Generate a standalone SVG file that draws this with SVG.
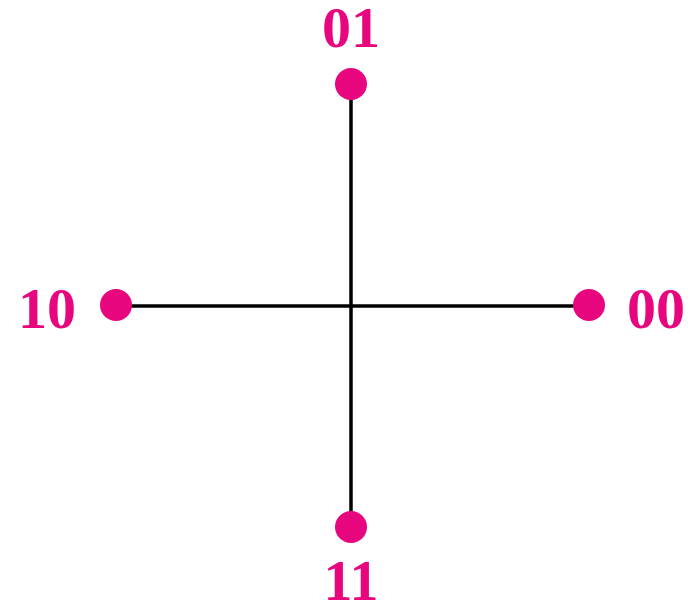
<svg xmlns="http://www.w3.org/2000/svg" width="697" height="609" viewBox="0 0 697 609">
<style>
.dot{fill:#E8067F}
.lbl{fill:#E8067F;font-family:"Liberation Serif","Times New Roman",serif;font-weight:bold;font-size:58px}
.ln{stroke:#000;stroke-width:3.5;fill:none}
</style>
<rect width="697" height="609" fill="#fff"/>
<g id="connectors">
<line class="ln" x1="351" y1="84" x2="351" y2="527"/>
<line class="ln" x1="116" y1="306" x2="589" y2="306"/>
</g>
<g id="n01"><circle class="dot" cx="351" cy="84" r="16"/><text class="lbl" x="351" y="47" text-anchor="middle">01</text></g>
<g id="n10"><circle class="dot" cx="116" cy="305" r="16"/><text class="lbl" x="47" y="328" text-anchor="middle">10</text></g>
<g id="n00"><circle class="dot" cx="589" cy="305" r="16"/><text class="lbl" x="656" y="328" text-anchor="middle">00</text></g>
<g id="n11"><circle class="dot" cx="351" cy="527" r="16"/><text class="lbl" x="351" y="600" text-anchor="middle">11</text></g>
</svg>
